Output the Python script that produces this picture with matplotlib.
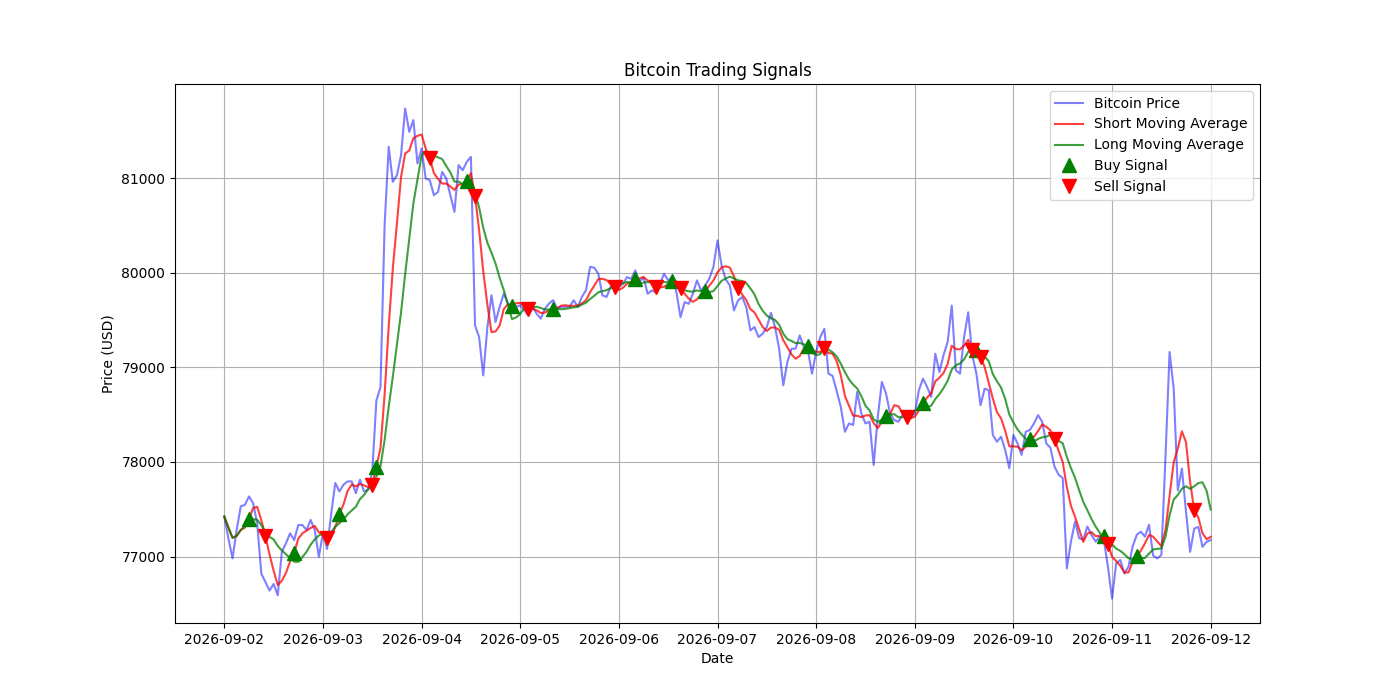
import pandas as pd
import matplotlib
matplotlib.use("Agg")
import matplotlib.pyplot as plt
import matplotlib.dates as mdates

# hourly prices, 2026-09-02 00:00 to 2026-09-12 00:00
price = [
    77422, 77190, 76980, 77280, 77530, 77546, 77635, 77565, 77350, 76820, 76730, 76640,
    76710, 76590, 77050, 77140, 77245, 77174, 77333, 77333, 77280, 77387, 77280, 76996,
    77250, 77080, 77450, 77777, 77688, 77759, 77794, 77794, 77670, 77812, 77688, 77706,
    77900, 78650, 78790, 80500, 81332, 80961, 81032, 81243, 81737, 81490, 81614, 81155,
    81314, 80996, 80979, 80820, 80855, 81067, 80996, 80820, 80644, 81138, 81085, 81173,
    81226, 79444, 79320, 78915, 79420, 79762, 79480, 79640, 79780, 79674, 79656, 79640,
    79656, 79603, 79550, 79640, 79568, 79515, 79620, 79674, 79710, 79620, 79640, 79640,
    79640, 79710, 79640, 79744, 79815, 80062, 80055, 79990, 79762, 79744, 79850, 79886,
    79848, 79884, 79954, 79936, 80025, 79901, 79954, 79778, 79813, 79795, 79884, 79989,
    79919, 79954, 79795, 79531, 79690, 79672, 79778, 79919, 79813, 79866, 79936, 80060,
    80342, 80077, 79930, 79866, 79602, 79708, 79743, 79637, 79391, 79426, 79320, 79356,
    79426, 79577, 79426, 79197, 78810, 79056, 79197, 79197, 79338, 79215, 79180, 78933,
    79162, 79320, 79408, 78933, 78910, 78750, 78582, 78319, 78407, 78390, 78740, 78512,
    78407, 78425, 77968, 78477, 78846, 78723, 78512, 78442, 78425, 78495, 78495, 78460,
    78512, 78758, 78880, 78793, 78688, 79144, 78950, 79130, 79267, 79653, 78968, 78933,
    79319, 79582, 79126, 78933, 78600, 78775, 78758, 78284, 78214, 78267, 78126, 77933,
    78284, 78196, 78074, 78319, 78337, 78407, 78495, 78425, 78196, 78150, 77950, 77865,
    77830, 76874, 77158, 77370, 77193, 77180, 77317, 77228, 77158, 77210, 77175, 76892,
    76556, 76927, 76963, 76820, 76892, 77104, 77228, 77263, 77210, 77335, 77010, 76980,
    77016, 78050, 79162, 78775, 77700, 77930, 77472, 77049, 77296, 77313, 77102, 77155,
    77175,
]

# hour index (from start) of each crossover signal
buy_hours = [6, 17, 28, 37, 59, 70, 80, 100, 109, 117, 142, 161, 170, 183, 196, 214, 222]
sell_hours = [10, 25, 36, 50, 61, 74, 95, 105, 111, 125, 146, 166, 182, 184, 202, 215, 236]

short_window = 5
long_window = 10

dates = pd.date_range("2026-09-02", periods=len(price), freq="h")
data = pd.DataFrame({"Price": price}, index=dates)
data["Short_MA"] = data["Price"].rolling(window=short_window, min_periods=1).mean()
data["Long_MA"] = data["Price"].rolling(window=long_window, min_periods=1).mean()

buys = data.iloc[buy_hours]
sells = data.iloc[sell_hours]

fig = plt.figure(figsize=(14, 7), dpi=100)
plt.plot(data.index, data["Price"], label="Bitcoin Price", color="blue", alpha=0.5)
plt.plot(data.index, data["Short_MA"], label="Short Moving Average", color="red", alpha=0.75)
plt.plot(data.index, data["Long_MA"], label="Long Moving Average", color="green", alpha=0.75)
plt.plot(buys.index, buys["Short_MA"], "^", markersize=10, color="g", label="Buy Signal")
plt.plot(sells.index, sells["Short_MA"], "v", markersize=10, color="r", label="Sell Signal")

plt.title("Bitcoin Trading Signals")
plt.xlabel("Date")
plt.ylabel("Price (USD)")
ax = plt.gca()
ax.xaxis.set_major_locator(mdates.DayLocator())
ax.xaxis.set_major_formatter(mdates.DateFormatter("%Y-%m-%d"))
plt.legend()
plt.grid(True)
plt.savefig("out.png")
